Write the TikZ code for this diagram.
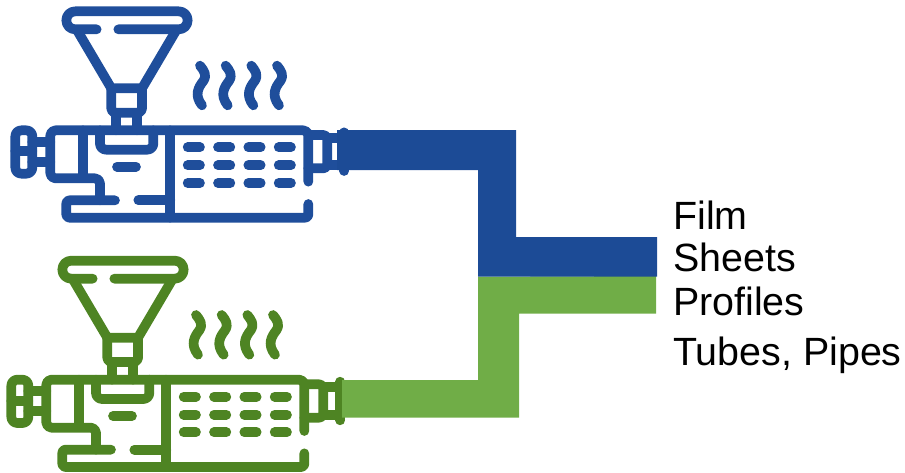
\documentclass[tikz,border=0pt]{standalone}
\usepackage{fontspec}
\setmainfont{Liberation Sans}
\definecolor{iconblue}{HTML}{1F4E9B}
\definecolor{barblue}{HTML}{1C4B96}
\definecolor{icongreen}{HTML}{4E8423}
\definecolor{bargreen}{HTML}{70AD47}
\tikzset{
  iconline/.style={line width=9.7pt,line cap=round,line join=round},
  label/.style={anchor=base west,inner sep=0pt,font=\fontsize{39.4}{39.4}\selectfont},
}
\newcommand{\extruder}[3]{%
\begin{scope}[shift={(#1,#2)},x=0.33333pt,y=-0.33333pt,draw=#3,iconline]
  % hopper
  \draw[rounded corners=8.9pt] (290,88) -- (199,88) -- (199,34) -- (563,34) -- (563,88) -- (355,88);
  \draw (232,92) -- (334,265) -- (426,265) -- (528,92);
  \draw[rounded corners=4pt] (334,265) -- (334,338) -- (426,338) -- (426,265);
  \draw (349,338) -- (349,391);
  \draw (411,338) -- (411,391);
  % body
  \draw[rounded corners=5pt] (925,545) -- (925,391) -- (151,391) -- (151,535) -- (300,535) -- (300,601);
  \draw[rounded corners=3pt] (345,601) -- (199,601) -- (199,653) -- (925,653) -- (925,612);
  \draw (415,601) -- (511,601);
  \draw (511,391) -- (511,653);
  \draw (248,391) -- (248,530);
  \draw[rounded corners=6pt] (300,391) -- (300,449) -- (460,449) -- (460,391);
  \draw (351,500) -- (408,500);
  % cooling slots
  \foreach \yy in {442,496,549}{
    \foreach \xx in {563,654,745,836}{
      \draw (\xx,\yy) -- ++(37,0);
    }
  }
  % heat waves
  \foreach \xx in {0,77,154,231}{
    \draw[xshift=\xx*0.33333pt] (600,197) .. controls (612,212) and (622,225) .. (610,243)
       .. controls (595,262) and (582,285) .. (606,316);
  }
  % left knob
  \draw[rounded corners=6pt] (46,391) rectangle (97,521);
  \draw (46,454) -- (97,454);
  \draw (97,425) -- (151,425);
  \draw (97,486) -- (151,486);
  % nozzle
  \draw[rounded corners=4pt] (925,405) -- (982,405) -- (982,505) -- (925,505);
  \draw (982,414) -- (1033,414);
  \draw (982,496) -- (1033,496);
  \draw (1033,397) -- (1033,513);
\end{scope}}
\begin{document}
\begin{tikzpicture}[x=1pt,y=-1pt]
  \useasboundingbox (0,0) rectangle (905,472);
  \extruder{0pt}{0pt}{iconblue}
  \extruder{-4pt}{-249.33pt}{icongreen}
  % streams
  \fill[bargreen] (342,380) -- (478,380) -- (478,276.7) -- (656,276) -- (656,313.7) -- (519,313.7) -- (519,417.7) -- (342,417.7) -- cycle;
  \fill[barblue] (337,130) -- (516,130) -- (516,237) -- (657,237) -- (657,276.7) -- (478,276.7) -- (478,170) -- (337,170) -- cycle;
  % labels
  \node[label] (film) at (673,229) {Film};
  \node[label] (sheets) at (673,271) {Sheets};
  \node[label] (profiles) at (673,315) {Profiles};
  \node[label] (tubes) at (673,365) {Tubes, Pipes};
\end{tikzpicture}
\end{document}
